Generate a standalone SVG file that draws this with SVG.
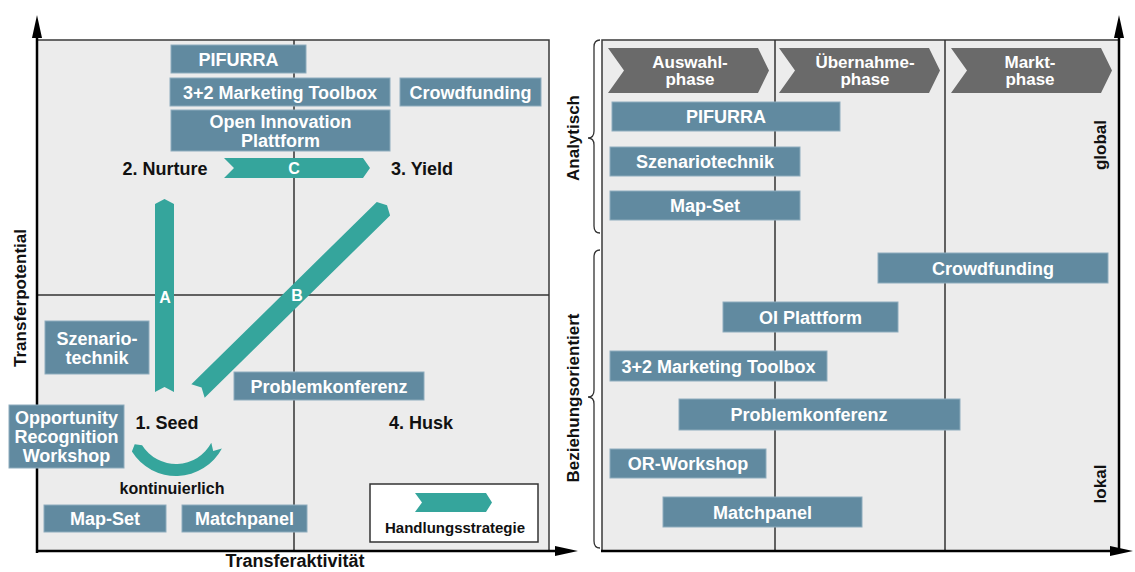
<svg xmlns="http://www.w3.org/2000/svg" width="1135" height="572" viewBox="0 0 1135 572">
<defs>
<style>
.t{font-family:"Liberation Sans",Arial,sans-serif;font-weight:bold;text-anchor:middle}
.w{fill:#ffffff;font-size:18px}
.k{fill:#111111;font-size:18px}
.box{fill:#618aa0;stroke:#8eacbd;stroke-width:1}
.teal{fill:#35a59c}
.phase{fill:#6a6a6a}
.panel{fill:#ececec;stroke:#3a3a3a;stroke-width:1.5}
.grid{stroke:#333333;stroke-width:1.5;fill:none}
.axis{stroke:#000000;stroke-width:2.5;fill:none}
.brace{stroke:#333333;stroke-width:1.3;fill:none}
</style>
<marker id="arr" viewBox="0 0 23 10" markerWidth="23" markerHeight="10" refX="13" refY="5" orient="auto" markerUnits="userSpaceOnUse">
<path d="M0,0 L23,5 L0,10 Z" fill="#000000"/>
</marker>
</defs>

<g id="left-panel">
<rect class="panel" x="37" y="40" width="512" height="511"/>
<line class="grid" x1="294" y1="40" x2="294" y2="551"/>
<line class="grid" x1="37" y1="295" x2="549" y2="295"/>
</g>

<g id="right-panel">
<rect class="panel" x="602" y="40" width="517" height="511"/>
<line class="grid" x1="775" y1="40" x2="775" y2="551"/>
<line class="grid" x1="945" y1="40" x2="945" y2="551"/>
</g>

<g id="connectors">
<line class="axis" x1="37" y1="553" x2="37" y2="25" marker-end="url(#arr)"/>
<line class="axis" x1="36" y1="551" x2="568" y2="551" marker-end="url(#arr)"/>
<line class="axis" x1="1119" y1="553" x2="1119" y2="25" marker-end="url(#arr)"/>
<line class="axis" x1="601" y1="551" x2="1123" y2="551" marker-end="url(#arr)"/>
<path class="brace" d="M600,40 Q594,40 594,47 L594,131 Q594,138 588,138 Q594,138 594,145 L594,226 Q594,233 600,233"/>
<path class="brace" d="M600,250 Q594,250 594,257 L594,390 Q594,397 588,397 Q594,397 594,404 L594,541 Q594,548 600,548"/>
</g>

<g id="axis-labels">
<text class="t k" x="295" y="567">Transferaktivität</text>
<text class="t k" transform="translate(26,298) rotate(-90)" style="font-size:17px">Transferpotential</text>
<text class="t k" transform="translate(579,138) rotate(-90)" style="font-size:17px">Analytisch</text>
<text class="t k" transform="translate(579,398) rotate(-90)" style="font-size:17px">Beziehungsorientiert</text>
<text class="t k" transform="translate(1106,145) rotate(-90)" style="font-size:17px">global</text>
<text class="t k" transform="translate(1106,484) rotate(-90)" style="font-size:17px">lokal</text>
</g>

<g id="strategy-A">
<polygon class="teal" points="164.5,199 174,204 174,392 164.5,387 155,392 155,204"/>
<text class="t w" x="165" y="303" style="font-size:16px">A</text>
</g>
<g id="strategy-B">
<polygon class="teal" transform="translate(198,391) rotate(-44.5)" points="0,-9.5 260,-9.5 265,0 260,9.5 0,9.5 5,0"/>
<text class="t w" x="297" y="301" style="font-size:16px">B</text>
</g>
<g id="strategy-C">
<polygon class="teal" points="224,158 363,158 370,168 363,178 224,178 234,168"/>
<text class="t w" x="294" y="174" style="font-size:16px">C</text>
</g>
<g id="seed-cycle">
<path class="teal" d="M221.9,448.4 A52,52 0 0 1 131.9,451.6 L134.7,444.2 L142.1,445.2 A40,40 0 0 0 211.3,442.8 L213.2,451 Z"/>
<text class="t k" x="172" y="494" style="font-size:16px">kontinuierlich</text>
</g>

<g id="quadrant-labels">
<text class="t k" x="165" y="174.5">2. Nurture</text>
<text class="t k" x="422" y="174.5">3. Yield</text>
<text class="t k" x="167" y="429">1. Seed</text>
<text class="t k" x="421" y="429">4. Husk</text>
</g>

<g id="l-pifurra"><rect class="box" x="171" y="45" width="135" height="28"/><text class="t w" x="238.5" y="65.5">PIFURRA</text></g>
<g id="l-marketing"><rect class="box" x="170" y="78" width="220" height="28"/><text class="t w" x="280" y="98.5">3+2 Marketing Toolbox</text></g>
<g id="l-crowdfunding"><rect class="box" x="400" y="78" width="141" height="28"/><text class="t w" x="470.5" y="98.5">Crowdfunding</text></g>
<g id="l-oip"><rect class="box" x="171" y="110" width="219" height="41"/><text class="t w" x="280.5" y="128">Open Innovation</text><text class="t w" x="280.5" y="147">Plattform</text></g>
<g id="l-szenario"><rect class="box" x="45" y="321" width="104" height="53"/><text class="t w" x="97" y="345">Szenario-</text><text class="t w" x="97" y="364">technik</text></g>
<g id="l-problem"><rect class="box" x="234" y="372" width="190" height="28"/><text class="t w" x="329" y="392.5">Problemkonferenz</text></g>
<g id="l-orw"><rect class="box" x="9" y="405" width="115" height="63"/><text class="t w" x="66.5" y="424">Opportunity</text><text class="t w" x="66.5" y="443">Recognition</text><text class="t w" x="66.5" y="462">Workshop</text></g>
<g id="l-mapset"><rect class="box" x="44" y="505" width="122" height="27"/><text class="t w" x="105" y="525">Map-Set</text></g>
<g id="l-matchpanel"><rect class="box" x="182" y="505" width="125" height="27"/><text class="t w" x="244.5" y="525">Matchpanel</text></g>

<g id="legend">
<rect x="370" y="484" width="168" height="58" fill="#ffffff" stroke="#333333" stroke-width="1.5"/>
<polygon class="teal" points="415,493 486,493 492,502.5 486,512 415,512 422,502.5"/>
<text class="t k" x="455" y="533" style="font-size:15px">Handlungsstrategie</text>
</g>

<g id="phase-1"><polygon class="phase" points="608,48 758,48 769,70.5 758,93 608,93 624,70.5"/><text class="t w" x="690" y="68" style="font-size:17px">Auswahl-</text><text class="t w" x="690" y="85" style="font-size:17px">phase</text></g>
<g id="phase-2"><polygon class="phase" points="779,48 929,48 940,70.5 929,93 779,93 795,70.5"/><text class="t w" x="865" y="68" style="font-size:17px">Übernahme-</text><text class="t w" x="865" y="85" style="font-size:17px">phase</text></g>
<g id="phase-3"><polygon class="phase" points="951,48 1101,48 1112,70.5 1101,93 951,93 967,70.5"/><text class="t w" x="1030" y="68" style="font-size:17px">Markt-</text><text class="t w" x="1030" y="85" style="font-size:17px">phase</text></g>

<g id="r-pifurra"><rect class="box" x="612" y="102" width="228" height="29"/><text class="t w" x="726" y="123">PIFURRA</text></g>
<g id="r-szenario"><rect class="box" x="610" y="147" width="190" height="29"/><text class="t w" x="705" y="168">Szenariotechnik</text></g>
<g id="r-mapset"><rect class="box" x="610" y="191" width="190" height="29"/><text class="t w" x="705" y="212">Map-Set</text></g>
<g id="r-crowdfunding"><rect class="box" x="878" y="253" width="230" height="30"/><text class="t w" x="993" y="274.5">Crowdfunding</text></g>
<g id="r-oi"><rect class="box" x="723" y="302" width="175" height="30"/><text class="t w" x="810.5" y="323.5">OI Plattform</text></g>
<g id="r-marketing"><rect class="box" x="610" y="351" width="217" height="30"/><text class="t w" x="718.5" y="372.5">3+2 Marketing Toolbox</text></g>
<g id="r-problem"><rect class="box" x="679" y="399" width="281" height="31"/><text class="t w" x="809" y="421">Problemkonferenz</text></g>
<g id="r-orw"><rect class="box" x="610" y="449" width="156" height="29"/><text class="t w" x="688" y="470">OR-Workshop</text></g>
<g id="r-matchpanel"><rect class="box" x="663" y="497" width="199" height="30"/><text class="t w" x="762.5" y="518.5">Matchpanel</text></g>
</svg>
